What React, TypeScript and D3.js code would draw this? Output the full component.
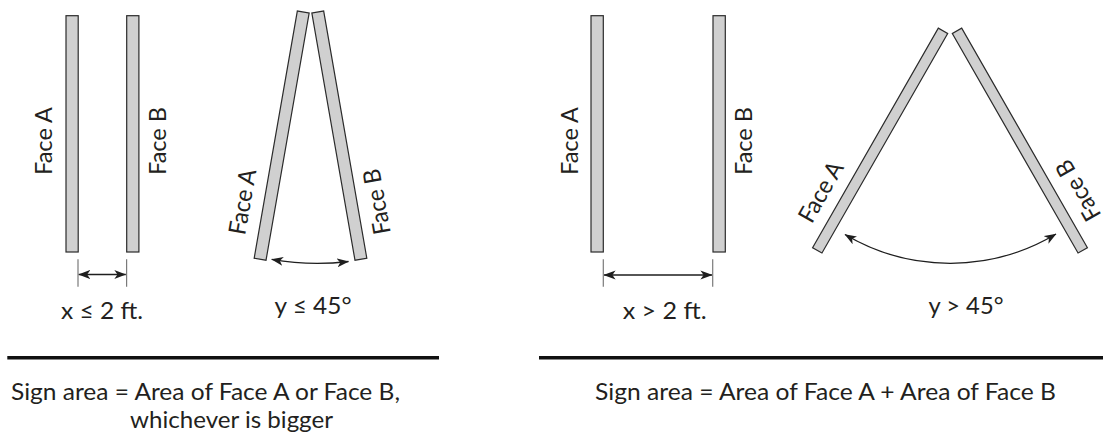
import React from "react";
import * as d3 from "d3";

// ---- content ----
const faceLabels = ["Face A", "Face B"];
const distanceLabels = ["x ≤ 2 ft.", "x > 2 ft."];
const angleLabels = ["y ≤ 45°", "y > 45°"];
const tiltDegrees = [9.9, 29.8];
const captionLines = [
  ["Sign area = Area of Face A or Face B,", "whichever is bigger"],
  ["Sign area = Area of Face A + Area of Face B"],
];

// ---- layout (positions / sizes) ----
const layouts = [
  {
    bars: [66, 126.7], barW: 12.2, barTop: 15.7, barBottom: 252,
    ticks: [78, 126.6], tickTop: 259.3, tickBottom: 286.7, arrowY: 274.5,
    faceCenters: [43.5, 157.5], faceY: 141,
    distX: 102, distY: 319, distW: 82,
    axis: 310.5, vTop: 12, halfGap: 7.25, vLen: 251, vW: 12,
    arc: [[271.7, 259.3], [310.2, 263.3], [348.5, 261.5]],
    tiltLabels: [[242.5, 201.7], [376.7, 201.7]],
    angX: 313, angY: 314, angW: 77,
    rule: [7.3, 439], ruleY: 357.7,
    caps: [[205.5, 400, 389], [231.5, 428, 203]],
  },
  {
    bars: [591, 713], barW: 12.3, barTop: 15.7, barBottom: 252,
    ticks: [603.3, 712.7], tickTop: 259.3, tickBottom: 286.7, arrowY: 275,
    faceCenters: [569.2, 743.8], faceY: 141,
    distX: 664.7, distY: 318.5, distW: 84,
    axis: 950, vTop: 30.8, halfGap: 7, vLen: 253, vW: 10.8,
    arc: [[845, 234.5], [950.5, 263.3], [1056, 234]],
    tiltLabels: [[820.8, 191.7], [1078, 190.5]],
    angX: 966, angY: 313.5, angW: 75,
    rule: [539, 1103], ruleY: 357.7,
    caps: [[825.5, 400, 461]],
  },
];

const FONT = "Lato, 'Open Sans', sans-serif";
const FS = 24;
const TEXT = "#231f20";
const BAR_FILL = "#d0d0d0";
const BAR_STROKE = "#2b2b2b";

function circleFrom3(p: number[][]) {
  const [[x1, y1], [x2, y2], [x3, y3]] = p;
  const d = 2 * (x1 * (y2 - y3) + x2 * (y3 - y1) + x3 * (y1 - y2));
  const ux = ((x1 * x1 + y1 * y1) * (y2 - y3) + (x2 * x2 + y2 * y2) * (y3 - y1) + (x3 * x3 + y3 * y3) * (y1 - y2)) / d;
  const uy = ((x1 * x1 + y1 * y1) * (x3 - x2) + (x2 * x2 + y2 * y2) * (x1 - x3) + (x3 * x3 + y3 * y3) * (x2 - x1)) / d;
  return { cx: ux, cy: uy, r: Math.hypot(x1 - ux, y1 - uy) };
}

function arcPath(pts: number[][]) {
  const { cx, cy, r } = circleFrom3(pts);
  const a0 = Math.atan2(pts[0][1] - cy, pts[0][0] - cx);
  const a1 = Math.atan2(pts[2][1] - cy, pts[2][0] - cx);
  const p = d3.path();
  p.moveTo(pts[0][0], pts[0][1]);
  p.arc(cx, cy, r, a0, a1, true);
  return p.toString();
}

function linePath(x0: number, y0: number, x1: number, y1: number) {
  const p = d3.path();
  p.moveTo(x0, y0);
  p.lineTo(x1, y1);
  return p.toString();
}

export default function App() {
  return (
    <svg
      width={1103}
      height={437}
      viewBox="0 0 1103 437"
      style={{ position: "absolute", left: 0, top: 0, background: "#fff" }}
    >
      <defs>
        <marker
          id="ah"
          viewBox="0 0 12 10"
          refX={11.5}
          refY={5}
          markerWidth={12}
          markerHeight={10}
          markerUnits="userSpaceOnUse"
          orient="auto-start-reverse"
        >
          <path d="M0,0.5 L12,5 L0,9.5 L3.2,5 Z" fill="#1e1e1e" />
        </marker>
      </defs>
      <rect width={1103} height={437} fill="#fff" />
      {layouts.map((L, i) => (
        <g key={i}>
          {/* parallel faces */}
          {L.bars.map((bx, j) => (
            <rect
              key={"b" + j}
              x={bx}
              y={L.barTop}
              width={L.barW}
              height={L.barBottom - L.barTop}
              fill={BAR_FILL}
              stroke={BAR_STROKE}
              strokeWidth={1.2}
            />
          ))}
          {L.faceCenters.map((fx, j) => (
            <text
              key={"f" + j}
              transform={`translate(${fx},${L.faceY}) rotate(-90)`}
              textAnchor="middle"
              dy="0.35em"
              fontFamily={FONT}
              fontSize={FS}
              fill={TEXT}
              textLength={68}
              lengthAdjust="spacingAndGlyphs"
            >
              {faceLabels[j]}
            </text>
          ))}
          {/* dimension */}
          {L.ticks.map((tx, j) => (
            <path
              key={"t" + j}
              d={linePath(tx, L.tickTop, tx, L.tickBottom)}
              stroke="#7a7a7a"
              strokeWidth={1.2}
            />
          ))}
          <path
            d={linePath(L.ticks[0] + 0.8, L.arrowY, L.ticks[1] - 0.8, L.arrowY)}
            stroke="#1e1e1e"
            strokeWidth={1.3}
            fill="none"
            markerStart="url(#ah)"
            markerEnd="url(#ah)"
          />
          <text
            x={L.distX}
            y={L.distY}
            textAnchor="middle"
            fontFamily={FONT}
            fontSize={FS}
            fill={TEXT}
            textLength={L.distW}
            lengthAdjust="spacingAndGlyphs"
          >
            {distanceLabels[i]}
          </text>
          {/* angled faces */}
          {[1, -1].map((s, j) => (
            <rect
              key={"v" + j}
              x={-L.vW / 2}
              y={0}
              width={L.vW}
              height={L.vLen}
              transform={`translate(${L.axis - s * L.halfGap},${L.vTop}) rotate(${s * tiltDegrees[i]})`}
              fill={BAR_FILL}
              stroke={BAR_STROKE}
              strokeWidth={1.2}
            />
          ))}
          {L.tiltLabels.map(([tx, ty], j) => (
            <text
              key={"tl" + j}
              transform={`translate(${tx},${ty}) rotate(${j === 0 ? -90 + tiltDegrees[i] : -90 - tiltDegrees[i]})`}
              textAnchor="middle"
              dy="0.35em"
              fontFamily={FONT}
              fontSize={FS}
              fill={TEXT}
              textLength={66}
              lengthAdjust="spacingAndGlyphs"
            >
              {faceLabels[j]}
            </text>
          ))}
          <path
            d={arcPath(L.arc)}
            stroke="#1e1e1e"
            strokeWidth={1.3}
            fill="none"
            markerStart="url(#ah)"
            markerEnd="url(#ah)"
          />
          <text
            x={L.angX}
            y={L.angY}
            textAnchor="middle"
            fontFamily={FONT}
            fontSize={FS}
            fill={TEXT}
            textLength={L.angW}
            lengthAdjust="spacingAndGlyphs"
          >
            {angleLabels[i]}
          </text>
          {/* rule */}
          <path
            d={linePath(L.rule[0], L.ruleY, L.rule[1], L.ruleY)}
            stroke="#111"
            strokeWidth={3.4}
          />
          {captionLines[i].map((line, j) => (
            <text
              key={"c" + j}
              x={L.caps[j][0]}
              y={L.caps[j][1]}
              textAnchor="middle"
              fontFamily={FONT}
              fontSize={FS}
              fill={TEXT}
              textLength={L.caps[j][2]}
              lengthAdjust="spacingAndGlyphs"
            >
              {line}
            </text>
          ))}
        </g>
      ))}
    </svg>
  );
}
